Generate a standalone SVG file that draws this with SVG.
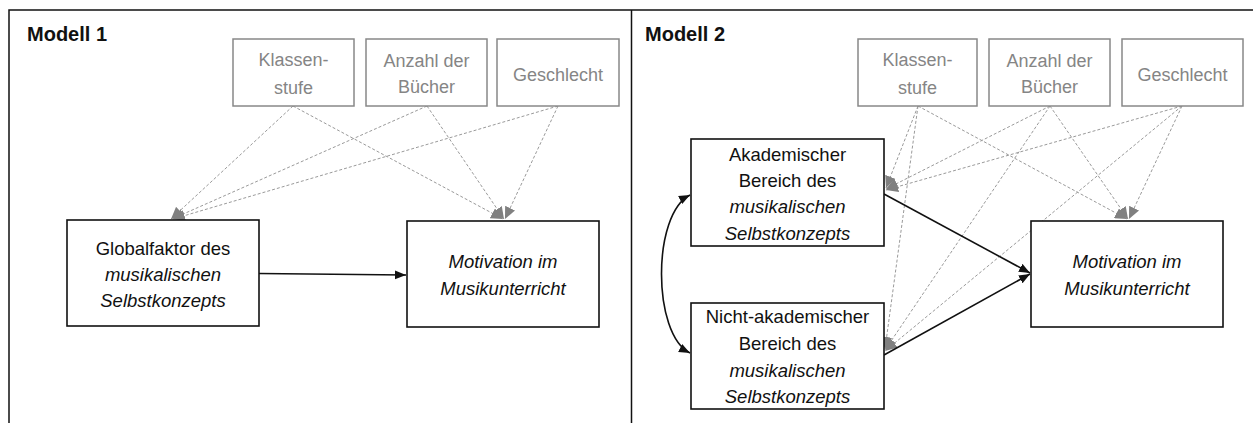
<svg xmlns="http://www.w3.org/2000/svg" width="1253" height="423" viewBox="0 0 1253 423">
  <style>
    text { font-family: "Liberation Sans", Arial, sans-serif; font-size: 18.5px; text-anchor: middle; fill: #111; }
    .title { font-size: 20px; font-weight: bold; text-anchor: start; }
    .it { font-style: italic; }
    .ctl rect { fill: #fff; stroke: #888; stroke-width: 1.5; }
    .ctl text { fill: #858585; font-size: 18px; }
    .node rect { fill: #fff; stroke: #111; stroke-width: 1.6; }
    .dash { fill: none; stroke: #9a9a9a; stroke-width: 1; stroke-dasharray: 3 2; marker-end: url(#grayHead); }
    .path { fill: none; stroke: #111; stroke-width: 1.6; marker-end: url(#blackHead); }
    .frame { fill: none; stroke: #111; stroke-width: 1.5; }
  </style>
  <defs>
    <marker id="grayHead" markerUnits="userSpaceOnUse" markerWidth="13" markerHeight="11" refX="12" refY="5.5" orient="auto">
      <path d="M0,0 L12,5.5 L0,11 Z" fill="#808080"/>
    </marker>
    <marker id="blackHead" markerUnits="userSpaceOnUse" markerWidth="12" markerHeight="10" refX="11" refY="5" orient="auto-start-reverse">
      <path d="M0,0.5 L11,5 L0,9.5 Z" fill="#111"/>
    </marker>
  </defs>

  <!-- panel frame -->
  <g id="frame">
    <path class="frame" d="M9,423 V10 H1253"/>
    <path class="frame" d="M631.5,10 V423"/>
  </g>
  <text class="title" x="27" y="41">Modell 1</text>
  <text class="title" x="645" y="41">Modell 2</text>

  <!-- connectors -->
  <g id="connectors">
    <!-- model 1: covariates -->
    <path class="dash" d="M293,106 L171,219"/>
    <path class="dash" d="M293,106 L503,219"/>
    <path class="dash" d="M427,106 L172,219"/>
    <path class="dash" d="M427,106 L504,219"/>
    <path class="dash" d="M558,106 L173,219"/>
    <path class="dash" d="M558,106 L505,219"/>
    <!-- model 1: main path -->
    <path class="path" d="M259,273.5 L406,275"/>

    <!-- model 2: covariates -->
    <path class="dash" d="M918,106 L886,188"/>
    <path class="dash" d="M918,106 L885,349"/>
    <path class="dash" d="M918,106 L1127,219"/>
    <path class="dash" d="M1050,106 L886,189"/>
    <path class="dash" d="M1050,106 L885,350"/>
    <path class="dash" d="M1050,106 L1128,219"/>
    <path class="dash" d="M1182,106 L886,190"/>
    <path class="dash" d="M1182,106 L885,351"/>
    <path class="dash" d="M1182,106 L1129,219"/>
    <!-- model 2: main paths -->
    <path class="path" d="M884,194 L1030,273"/>
    <path class="path" d="M884,355 L1030,274"/>
    <!-- model 2: correlation between the two domains -->
    <path class="path" d="M690,195 C652,214 652,334 690,353" style="marker-start:url(#blackHead)"/>
  </g>

  <!-- model 1 nodes -->
  <g id="m1-klassenstufe" class="ctl">
    <rect x="233" y="39" width="121" height="67"/>
    <text x="293.5" y="66">Klassen-</text>
    <text x="293.5" y="94">stufe</text>
  </g>
  <g id="m1-buecher" class="ctl">
    <rect x="366" y="39" width="121" height="67"/>
    <text x="426.5" y="67">Anzahl der</text>
    <text x="426.5" y="93">Bücher</text>
  </g>
  <g id="m1-geschlecht" class="ctl">
    <rect x="497" y="39" width="122" height="67"/>
    <text x="558" y="81">Geschlecht</text>
  </g>
  <g id="m1-global" class="node">
    <rect x="67" y="220" width="192" height="106"/>
    <text x="163" y="255">Globalfaktor des</text>
    <text x="163" y="281" class="it">musikalischen</text>
    <text x="163" y="307" class="it">Selbstkonzepts</text>
  </g>
  <g id="m1-motivation" class="node">
    <rect x="407" y="221" width="192" height="106"/>
    <text x="503" y="268" class="it">Motivation im</text>
    <text x="503" y="295" class="it">Musikunterricht</text>
  </g>

  <!-- model 2 nodes -->
  <g id="m2-klassenstufe" class="ctl">
    <rect x="858" y="39" width="119" height="67"/>
    <text x="917.5" y="66">Klassen-</text>
    <text x="917.5" y="94">stufe</text>
  </g>
  <g id="m2-buecher" class="ctl">
    <rect x="989" y="39" width="121" height="67"/>
    <text x="1049.5" y="67">Anzahl der</text>
    <text x="1049.5" y="93">Bücher</text>
  </g>
  <g id="m2-geschlecht" class="ctl">
    <rect x="1122" y="39" width="121" height="67"/>
    <text x="1182.5" y="81">Geschlecht</text>
  </g>
  <g id="m2-akademisch" class="node">
    <rect x="691" y="139" width="193" height="107"/>
    <text x="787.5" y="161">Akademischer</text>
    <text x="787.5" y="187">Bereich des</text>
    <text x="787.5" y="213" class="it">musikalischen</text>
    <text x="787.5" y="240" class="it">Selbstkonzepts</text>
  </g>
  <g id="m2-nichtakademisch" class="node">
    <rect x="691" y="303" width="193" height="106"/>
    <text x="787.5" y="323">Nicht-akademischer</text>
    <text x="787.5" y="350">Bereich des</text>
    <text x="787.5" y="377" class="it">musikalischen</text>
    <text x="787.5" y="403" class="it">Selbstkonzepts</text>
  </g>
  <g id="m2-motivation" class="node">
    <rect x="1031" y="221" width="192" height="106"/>
    <text x="1127" y="268" class="it">Motivation im</text>
    <text x="1127" y="295" class="it">Musikunterricht</text>
  </g>
</svg>
